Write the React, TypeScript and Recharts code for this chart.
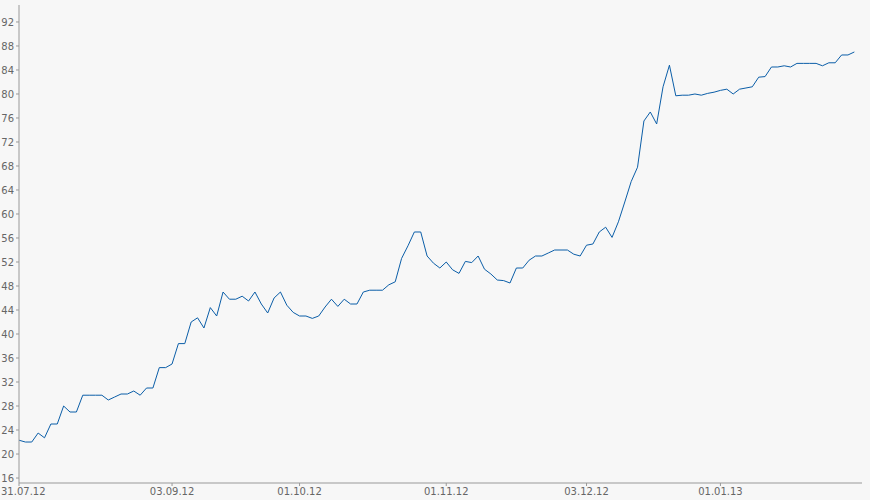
import React from 'react';
import { LineChart, Line, XAxis, YAxis } from 'recharts';

// closing price per trading day, 31.07.12 .. 31.01.13
const prices = [
  22.3, 22.0, 22.0, 23.5, 22.7, 25.0, 25.0, 28.0, 27.0, 27.0,
  29.8, 29.8, 29.8, 29.8, 29.0, 29.5, 30.0, 30.0, 30.5, 29.8,
  31.0, 31.0, 34.4, 34.4, 35.0, 38.4, 38.4, 42.0, 42.7, 41.0,
  44.4, 43.0, 47.0, 45.8, 45.8, 46.3, 45.5, 47.0, 45.0, 43.5,
  46.0, 47.0, 44.8, 43.6, 43.0, 43.0, 42.6, 43.0, 44.5, 45.8,
  44.6, 45.8, 45.0, 45.0, 47.0, 47.3, 47.3, 47.3, 48.2, 48.7,
  52.6, 54.7, 57.0, 57.0, 53.0, 51.8, 51.0, 52.0, 50.7, 50.1,
  52.1, 51.9, 53.0, 50.8, 50.0, 49.0, 48.9, 48.5, 51.0, 51.0,
  52.3, 53.0, 53.0, 53.5, 54.0, 54.0, 54.0, 53.3, 53.0, 54.8,
  55.0, 57.0, 57.8, 56.1, 58.7, 62.0, 65.4, 67.8, 75.5, 77.0,
  75.0, 81.2, 84.8, 79.7, 79.8, 79.8, 80.0, 79.8, 80.1, 80.3,
  80.6, 80.8, 80.0, 80.8, 81.0, 81.2, 82.8, 82.9, 84.5, 84.5,
  84.7, 84.5, 85.1, 85.1, 85.1, 85.1, 84.7, 85.2, 85.2, 86.5,
  86.5, 87.0,
];

// trading-day index of each labelled date
const tickDays = [0, 24, 44, 67, 89, 110];
const tickLabels = ['31.07.12', '03.09.12', '01.10.12', '01.11.12', '03.12.12', '01.01.13'];

const yTicks = [16, 20, 24, 28, 32, 36, 40, 44, 48, 52, 56, 60, 64, 68, 72, 76, 80, 84, 88, 92];

const data = prices.map((price, day) => ({ day, price }));

const tickStyle = { fontSize: 10, fill: '#666', fontFamily: 'DejaVu Sans' };

// first date label sits flush with the left edge
const DateTick = (props: any) => {
  const { x, y, payload } = props;
  const label = tickLabels[tickDays.indexOf(payload.value)] ?? '';
  const first = payload.value === 0;
  return (
    <text
      x={first ? 1 : x}
      y={y}
      dy="0.71em"
      textAnchor={first ? 'start' : 'middle'}
      {...tickStyle}
    >
      {label}
    </text>
  );
};

const App: React.FC = () => {
  return (
    <div style={{ position: 'absolute', left: 0, top: 0, width: 870, height: 500, background: '#f7f7f7' }}>
      <LineChart
        width={870}
        height={500}
        data={data}
        margin={{ top: 5, right: 8, left: 0, bottom: 0 }}
      >
        <XAxis
          dataKey="day"
          type="number"
          domain={[0, 132.2]}
          ticks={tickDays}
          height={17}
          tickSize={3}
          tickMargin={2}
          stroke="#999"
          tick={<DateTick />}
          interval={0}
        />
        <YAxis
          type="number"
          domain={[15.17, 94.83]}
          ticks={yTicks}
          width={19}
          tickSize={3}
          tickMargin={2}
          stroke="#999"
          tick={tickStyle}
          interval={0}
          allowDataOverflow
        />
        <Line
          type="linear"
          dataKey="price"
          stroke="#0b5ea8"
          strokeWidth={1}
          dot={false}
          isAnimationActive={false}
        />
      </LineChart>
    </div>
  );
};

export default App;
